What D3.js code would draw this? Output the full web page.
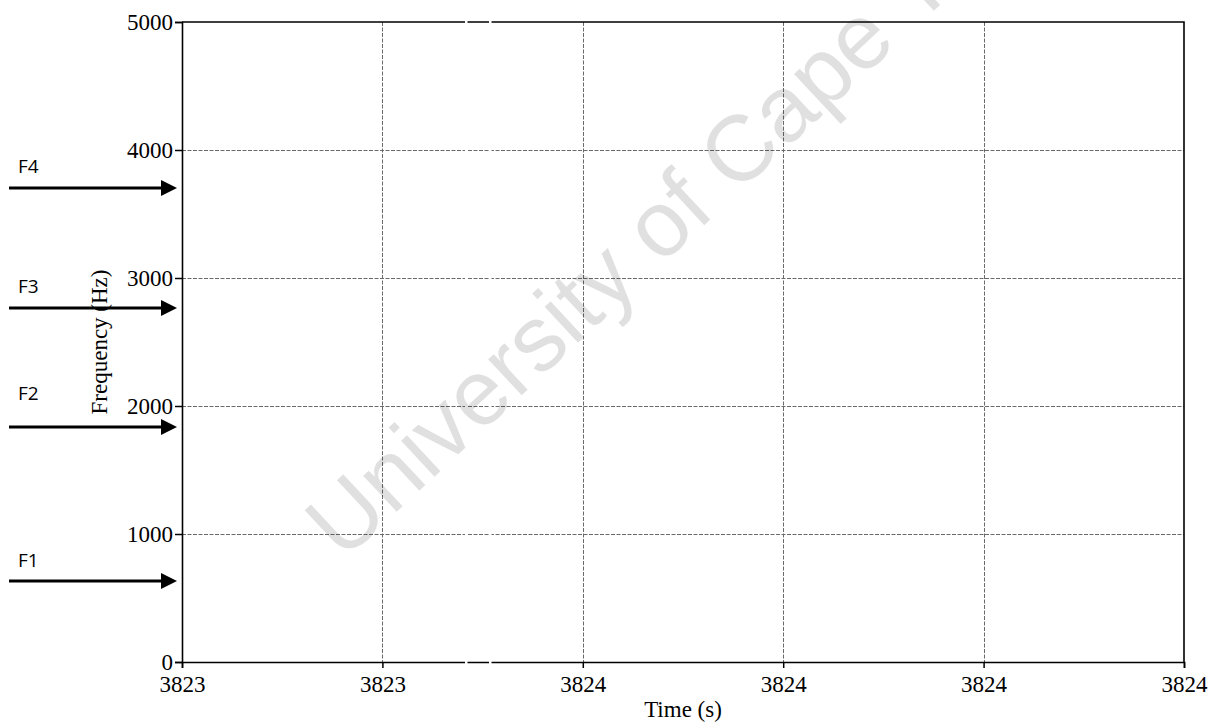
<!DOCTYPE html>
<html>
<head>
<meta charset="utf-8">
<script src="https://cdn.jsdelivr.net/npm/d3@7"></script>
<style>
  body { margin: 0; background: #fff; }
  svg { display: block; }
  .tick text { font-family: "Liberation Serif", "Times New Roman", serif; font-size: 23px; fill: #000; }
</style>
</head>
<body>
<script>
// data
const timeTicks = [3823.2, 3823.4, 3823.6, 3823.8, 3824.0, 3824.2];
const freqTicks = [0, 1000, 2000, 3000, 4000, 5000];
const formants = ['F1', 'F2', 'F3', 'F4'];
const formantFreqs = [633, 1836, 2766, 3703];
const labelGaps = [14, 27, 15, 15];

// canvas
const width = 1211;
const height = 725;
const margin = { top: 22, right: 27, bottom: 63, left: 182 };
const serif = '"Liberation Serif", "Times New Roman", serif';

const svg = d3.select('body').append('svg').attr('width', width).attr('height', height);

const x = d3.scaleLinear()
  .domain([timeTicks[0], timeTicks[timeTicks.length - 1]])
  .range([margin.left, width - margin.right]);

const y = d3.scaleLinear()
  .domain([0, 5000])
  .range([height - margin.bottom, margin.top]);

// grid
const grid = svg.append('g')
  .attr('stroke', '#6a6a6a')
  .attr('stroke-width', 1)
  .attr('stroke-dasharray', '4,1.5');

grid.selectAll('.hgrid')
  .data(freqTicks.slice(1, -1))
  .enter()
  .append('line')
  .attr('x1', x.range()[0])
  .attr('x2', x.range()[1])
  .attr('y1', (d) => Math.round(y(d)) + 0.5)
  .attr('y2', (d) => Math.round(y(d)) + 0.5);

grid.selectAll('.vgrid')
  .data(timeTicks.slice(1, -1))
  .enter()
  .append('line')
  .attr('x1', (d) => Math.round(x(d)) + 0.5)
  .attr('x2', (d) => Math.round(x(d)) + 0.5)
  .attr('y1', y.range()[1])
  .attr('y2', y.range()[0]);

// axes
const xAxis = (g) =>
  g.attr('transform', `translate(0, ${height - margin.bottom})`)
    .call(d3.axisBottom(x).tickValues(timeTicks).tickFormat(d3.format('.0f')).tickSize(6).tickPadding(8));

const yAxis = (g) =>
  g.attr('transform', `translate(${margin.left}, 0)`)
    .call(d3.axisLeft(y).tickValues(freqTicks).tickFormat(d3.format('d')).tickSize(7).tickPadding(2));

svg.append('g').call(xAxis);
svg.append('g').call(yAxis);

svg.selectAll('.domain').attr('stroke', '#000').attr('stroke-width', 1.6);
svg.selectAll('.tick line').attr('stroke', '#000').attr('stroke-width', 1.5);

// top and right frame
svg.append('path')
  .attr('d', `M${x.range()[0]},${y.range()[1]}H${x.range()[1]}V${y.range()[0]}`)
  .attr('fill', 'none')
  .attr('stroke', '#000')
  .attr('stroke-width', 1.6);

// axis titles
svg.append('text')
  .text('Time (s)')
  .attr('x', (x.range()[0] + x.range()[1]) / 2)
  .attr('y', 717)
  .attr('text-anchor', 'middle')
  .attr('font-family', serif)
  .attr('font-size', '23px');

svg.append('text')
  .text('Frequency (Hz)')
  .attr('transform', `translate(107, ${(y.range()[0] + y.range()[1]) / 2}) rotate(-90)`)
  .attr('text-anchor', 'middle')
  .attr('font-family', serif)
  .attr('font-size', '23px');

// thin white breaks through the plot
svg.append('g')
  .selectAll('rect')
  .data([465, 489])
  .enter()
  .append('rect')
  .attr('x', (d) => d)
  .attr('y', 12)
  .attr('width', 2.5)
  .attr('height', 665)
  .attr('fill', '#fff');

// formant arrows
const arrows = svg.append('g')
  .selectAll('g')
  .data(formants)
  .enter()
  .append('g');

arrows.append('line')
  .attr('x1', 9)
  .attr('x2', 164)
  .attr('y1', (d, i) => y(formantFreqs[i]))
  .attr('y2', (d, i) => y(formantFreqs[i]))
  .attr('stroke', '#000')
  .attr('stroke-width', 3);

arrows.append('path')
  .attr('d', (d, i) => {
    const yy = y(formantFreqs[i]);
    return `M161,${yy - 8}L177,${yy}L161,${yy + 8}Z`;
  })
  .attr('fill', '#000');

arrows.append('text')
  .text((d) => d)
  .attr('x', 18)
  .attr('y', (d, i) => y(formantFreqs[i]) - labelGaps[i])
  .attr('font-family', '"Open Sans", "Noto Sans", sans-serif')
  .attr('font-size', '19px')
  .attr('fill', '#000');

// watermark
svg.append('text')
  .text('University of Cape Town')
  .attr('transform', 'translate(343, 562) rotate(-43)')
  .attr('font-family', '"Liberation Sans", Arial, sans-serif')
  .attr('font-size', '93px')
  .attr('fill', '#000')
  .attr('fill-opacity', 0.12);
</script>
</body>
</html>
